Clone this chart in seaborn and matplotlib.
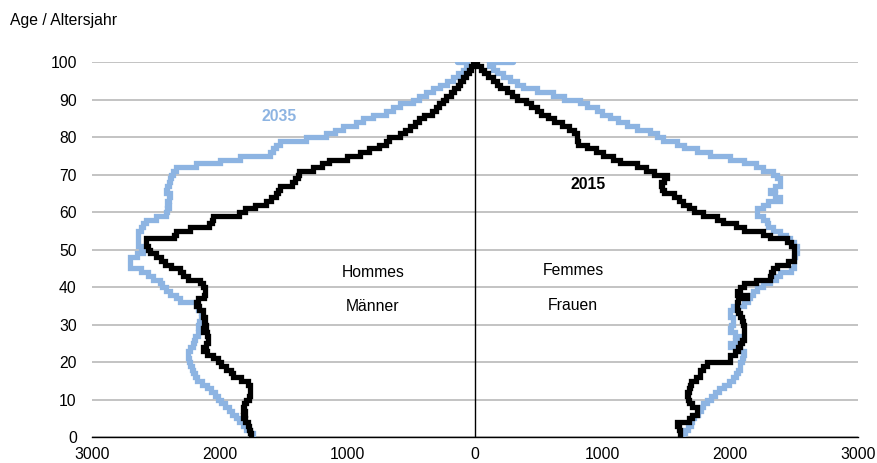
import matplotlib
matplotlib.use("Agg")
import matplotlib.pyplot as plt
import seaborn as sns
import numpy as np
import pandas as pd

ages = list(range(0, 101))

men_2015 = [1752, 1760, 1770, 1778, 1800, 1817, 1800, 1817, 1810, 1790,
            1770, 1765, 1765, 1765, 1780, 1830, 1896, 1910, 1948, 1990,
            2010, 2052, 2100, 2131, 2110, 2092, 2092, 2100, 2130, 2110,
            2120, 2115, 2130, 2130, 2160, 2183, 2170, 2120, 2118, 2118,
            2130, 2157, 2250, 2290, 2314, 2380, 2430, 2460, 2500, 2549,
            2560, 2575, 2575, 2360, 2340, 2235, 2080, 2060, 2052, 1850,
            1800, 1720, 1640, 1600, 1560, 1540, 1530, 1430, 1410, 1390,
            1375, 1270, 1200, 1140, 1000, 900, 830, 750, 700, 670,
            590, 550, 505, 470, 440, 400, 340, 305, 280, 250,
            225, 190, 160, 135, 115, 95, 70, 45, 30, 15,
            5]

men_2035 = [1739, 1760, 1790, 1820, 1850, 1869, 1900, 1930, 1960, 1990,
            2010, 2040, 2070, 2100, 2140, 2180, 2196, 2210, 2220, 2230,
            2240, 2250, 2250, 2230, 2210, 2200, 2190, 2170, 2160, 2170,
            2160, 2150, 2140, 2150, 2170, 2183, 2314, 2340, 2392, 2420,
            2450, 2470, 2523, 2560, 2614, 2706, 2706, 2700, 2650, 2600,
            2620, 2640, 2641, 2640, 2640, 2620, 2600, 2575, 2500, 2420,
            2415, 2400, 2410, 2400, 2390, 2420, 2410, 2400, 2390, 2380,
            2366, 2340, 2183, 2000, 1843, 1608, 1582, 1560, 1529, 1320,
            1163, 1100, 1032, 928, 880, 797, 693, 640, 588, 484,
            440, 380, 330, 275, 220, 170, 130, 92, 70, 60,
            140]

women_2015 = [1608, 1608, 1600, 1582, 1680, 1700, 1739, 1739, 1700, 1680,
              1670, 1660, 1680, 1686, 1690, 1730, 1765, 1765, 1790, 1817,
              2000, 2000, 2040, 2060, 2078, 2090, 2105, 2105, 2110, 2105,
              2100, 2090, 2080, 2060, 2052, 2052, 2060, 2131, 2052, 2080,
              2105, 2200, 2314, 2320, 2340, 2366, 2450, 2497, 2497, 2497,
              2497, 2480, 2444, 2314, 2261, 2105, 2050, 1948, 1900, 1791,
              1720, 1680, 1634, 1600, 1560, 1480, 1470, 1460, 1480, 1503,
              1400, 1340, 1268, 1140, 1080, 1006, 950, 880, 810, 800,
              800, 780, 740, 680, 620, 570, 520, 490, 440, 400,
              330, 290, 250, 200, 170, 140, 100, 70, 50, 20,
              10]

women_2035 = [1634, 1650, 1670, 1690, 1705, 1720, 1745, 1770, 1791, 1820,
              1850, 1880, 1910, 1950, 1990, 2026, 2050, 2065, 2078, 2078,
              2090, 2100, 2105, 2080, 2000, 2040, 2078, 2040, 2000, 2010,
              2026, 2020, 2000, 2000, 2020, 2105, 2140, 2157, 2180, 2209,
              2260, 2314, 2360, 2392, 2480, 2497, 2497, 2500, 2510, 2523,
              2523, 2500, 2471, 2440, 2392, 2340, 2300, 2288, 2260, 2209,
              2209, 2261, 2300, 2392, 2350, 2314, 2350, 2392, 2392, 2370,
              2340, 2261, 2200, 2105, 2000, 1843, 1739, 1640, 1582, 1477,
              1430, 1373, 1268, 1190, 1120, 1059, 1000, 954, 880, 820,
              700, 614, 484, 379, 330, 275, 220, 170, 140, 110,
              300]

x_ticks = [-3000, -2000, -1000, 0, 1000, 2000, 3000]
x_tick_labels = ["3000", "2000", "1000", "0", "1000", "2000", "3000"]
y_ticks = list(range(0, 101, 10))

col_2015 = "#000000"
col_2035 = "#8DB4E2"
FS = 11.3

sns.set_theme(style="white")
plt.rcParams["font.family"] = ["Liberation Sans", "DejaVu Sans"]
plt.rcParams["text.color"] = "#000000"

fig = plt.figure(figsize=(8.77, 4.63), dpi=100)
ax = fig.add_axes([0.105, 0.056, 0.873, 0.81])

rows = []
for sex, sign, s15, s35 in [("M", -1, men_2015, men_2035), ("F", 1, women_2015, women_2035)]:
    for yr, vals in [("2015", s15), ("2035", s35)]:
        for a, v in zip(ages, vals):
            rows.append({"sex": sex, "year": yr, "age": a, "value": sign * v})
df = pd.DataFrame(rows)

for yr, col in [("2035", col_2035), ("2015", col_2015)]:
    for sex in ["M", "F"]:
        sub = df[(df.year == yr) & (df.sex == sex)]
        sns.lineplot(data=sub, x="value", y="age", sort=False, estimator=None,
                     color=col, linewidth=3.8, drawstyle="steps-pre",
                     solid_joinstyle="miter", ax=ax, legend=False, zorder=3)

ax.set_xlim(-3000, 3000)
ax.set_ylim(0, 100)
ax.set_xticks(x_ticks)
ax.set_xticklabels(x_tick_labels)
ax.set_yticks(y_ticks)
ax.set_xlabel("")
ax.set_ylabel("")
ax.tick_params(axis="both", length=0, labelsize=FS, colors="#000000")
ax.tick_params(axis="x", pad=7)
ax.tick_params(axis="y", pad=11)
ax.grid(axis="y", color="#b3b3b3", linewidth=1.1)
ax.grid(axis="x", visible=False)
for s in ["left", "right", "top"]:
    ax.spines[s].set_visible(False)
ax.spines["bottom"].set_color("#000000")
ax.spines["bottom"].set_linewidth(1.0)
ax.axvline(0, color="#000000", linewidth=1.0, zorder=2)

ax.text(-1537, 85.6, "2035", color=col_2035, fontsize=FS, fontweight="bold",
        ha="center", va="center")
ax.text(886, 67.3, "2015", color=col_2015, fontsize=FS, fontweight="bold",
        ha="center", va="center")
ax.text(-800, 44.0, "Hommes", color="#000000", fontsize=FS, ha="center", va="center")
ax.text(-800, 34.7, "Männer", color="#000000", fontsize=FS, ha="center", va="center")
ax.text(770, 44.3, "Femmes", color="#000000", fontsize=FS, ha="center", va="center")
ax.text(770, 35.2, "Frauen", color="#000000", fontsize=FS, ha="center", va="center")

fig.text(10 / 877, 1 - 21 / 463, "Age / Altersjahr", color="#000000", fontsize=FS,
         ha="left", va="center")

fig.savefig("out.png", dpi=100)
